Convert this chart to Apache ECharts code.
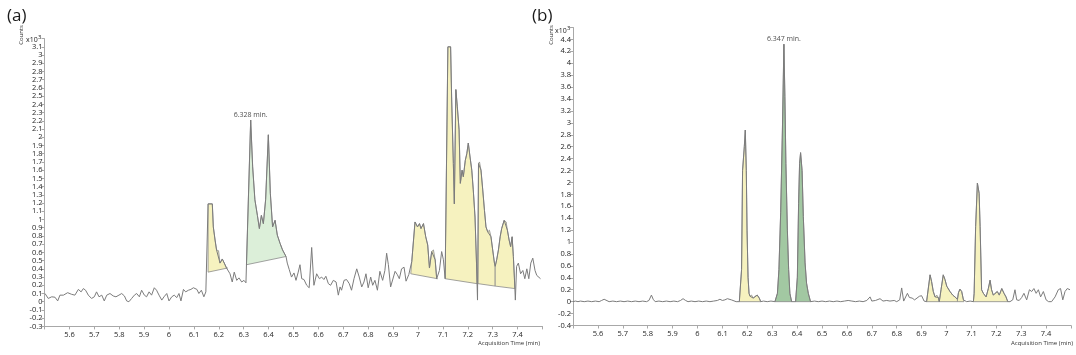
<!DOCTYPE html>
<html><head><meta charset="utf-8">
<script src="https://cdn.jsdelivr.net/npm/echarts@6/dist/echarts.min.js"></script>
<style>html,body{margin:0;padding:0;background:#fff}#c{width:1076px;height:355px}</style>
</head><body><div id="c"></div>
<script>
// ---------- Panel (a) ----------
const timesA = [5.502,5.515,5.529,5.542,5.553,5.562,5.576,5.593,5.609,5.622,5.636,5.647,5.656,5.665,5.676,5.689,5.700,5.709,5.719,5.730,5.740,5.750,5.763,5.776,5.787,5.799,5.810,5.821,5.830,5.839,5.850,5.861,5.870,5.881,5.890,5.901,5.910,5.920,5.930,5.941,5.950,5.960,5.971,5.980,5.991,6.000,6.011,6.021,6.031,6.040,6.048,6.058,6.067,6.078,6.088,6.098,6.104,6.112,6.120,6.130,6.140,6.148,6.155,6.157,6.174,6.178,6.185,6.191,6.199,6.205,6.214,6.222,6.231,6.235,6.245,6.254,6.262,6.272,6.281,6.292,6.301,6.309,6.328,6.336,6.345,6.355,6.363,6.371,6.379,6.388,6.399,6.407,6.416,6.426,6.435,6.446,6.456,6.470,6.475,6.483,6.492,6.502,6.510,6.519,6.526,6.533,6.542,6.553,6.563,6.573,6.582,6.593,6.604,6.613,6.622,6.630,6.640,6.649,6.660,6.671,6.680,6.687,6.693,6.703,6.713,6.724,6.733,6.743,6.754,6.764,6.774,6.783,6.791,6.800,6.810,6.818,6.827,6.837,6.847,6.858,6.867,6.874,6.881,6.890,6.898,6.908,6.917,6.925,6.934,6.944,6.952,6.963,6.975,6.988,6.998,7.006,7.012,7.022,7.031,7.039,7.046,7.055,7.062,7.069,7.075,7.086,7.095,7.102,7.109,7.120,7.131,7.135,7.142,7.146,7.152,7.158,7.165,7.170,7.177,7.182,7.190,7.196,7.202,7.209,7.216,7.222,7.229,7.235,7.239,7.243,7.247,7.253,7.260,7.267,7.273,7.280,7.287,7.293,7.300,7.307,7.310,7.316,7.323,7.330,7.336,7.346,7.354,7.359,7.366,7.372,7.378,7.383,7.387,7.391,7.396,7.403,7.412,7.421,7.429,7.437,7.445,7.453,7.461,7.470,7.477,7.484,7.492];
const countsA = [0.10,0.04,0.06,0.055,0.01,0.08,0.08,0.11,0.09,0.08,0.15,0.12,0.16,0.14,0.08,0.04,0.06,0.12,0.06,0.08,0.01,0.08,0.10,0.07,0.06,0.08,0.10,0.07,0.01,0.00,0.04,0.08,0.10,0.06,0.14,0.08,0.06,0.12,0.08,0.17,0.14,0.08,0.02,0.06,0.10,0.01,0.06,0.08,0.05,0.10,0.01,0.15,0.12,0.14,0.15,0.17,0.18,0.15,0.10,0.14,0.06,0.12,0.10,1.19,1.19,0.91,0.75,0.63,0.62,0.47,0.52,0.47,0.41,0.41,0.34,0.24,0.36,0.26,0.29,0.24,0.26,0.23,2.21,1.64,1.24,1.05,0.89,1.05,0.95,1.24,2.03,1.32,0.91,0.99,0.81,0.71,0.63,0.55,0.47,0.39,0.30,0.35,0.26,0.36,0.45,0.28,0.27,0.20,0.17,0.66,0.20,0.34,0.28,0.30,0.27,0.31,0.22,0.20,0.26,0.24,0.08,0.18,0.14,0.26,0.27,0.22,0.14,0.28,0.40,0.30,0.18,0.24,0.34,0.17,0.30,0.20,0.26,0.14,0.37,0.26,0.38,0.59,0.45,0.18,0.17,0.37,0.33,0.28,0.40,0.42,0.25,0.33,0.49,0.97,0.91,0.95,0.89,0.95,0.79,0.69,0.41,0.61,0.63,0.51,0.28,0.38,0.61,0.51,0.28,3.10,3.10,2.49,1.68,1.19,2.58,2.37,2.09,1.44,1.60,1.52,1.72,1.80,1.93,1.76,1.60,1.36,1.03,0.47,0.02,1.68,1.70,1.60,1.36,1.11,0.91,0.85,0.87,0.79,0.63,0.47,0.43,0.51,0.63,0.79,0.89,0.99,0.97,0.87,0.75,0.67,0.79,0.55,0.30,0.02,0.43,0.47,0.34,0.38,0.28,0.40,0.28,0.47,0.53,0.38,0.32,0.34,0.28];
const peakStartA = [6.157, 6.311, 6.971, 7.109, 7.241, 7.310];
const peakEndA   = [6.235, 6.470, 7.078, 7.237, 7.310, 7.389];
const baseStartA = [0.36, 0.45, 0.34, 0.28, 0.22, 0.19];
const baseEndA   = [0.41, 0.55, 0.28, 0.22, 0.19, 0.16];
const peakKindA  = ['qualifier','target','qualifier','qualifier','qualifier','qualifier'];
const apexA = [6.328, 2.21];
const apexLabelA = '6.328 min.';

// ---------- Panel (b) ----------
const timesB = [5.500,5.510,5.520,5.530,5.545,5.560,5.575,5.590,5.605,5.615,5.625,5.632,5.645,5.660,5.675,5.690,5.705,5.720,5.735,5.750,5.765,5.780,5.795,5.805,5.815,5.822,5.830,5.845,5.860,5.875,5.890,5.905,5.920,5.932,5.942,5.952,5.962,5.975,5.990,6.005,6.020,6.035,6.050,6.065,6.080,6.090,6.100,6.110,6.120,6.128,6.136,6.144,6.155,6.168,6.177,6.181,6.188,6.192,6.196,6.199,6.203,6.207,6.211,6.217,6.224,6.231,6.240,6.248,6.254,6.265,6.280,6.295,6.311,6.321,6.327,6.334,6.341,6.347,6.351,6.355,6.361,6.366,6.371,6.378,6.385,6.394,6.401,6.406,6.410,6.414,6.420,6.425,6.432,6.438,6.445,6.454,6.470,6.485,6.500,6.515,6.530,6.545,6.560,6.575,6.590,6.605,6.612,6.620,6.635,6.650,6.665,6.680,6.693,6.700,6.715,6.733,6.745,6.760,6.773,6.780,6.790,6.800,6.812,6.820,6.828,6.835,6.843,6.851,6.862,6.872,6.880,6.891,6.900,6.910,6.920,6.934,6.940,6.947,6.954,6.961,6.967,6.971,6.978,6.987,6.994,7.001,7.014,7.025,7.034,7.044,7.048,7.054,7.061,7.068,7.070,7.081,7.095,7.108,7.111,7.117,7.124,7.131,7.135,7.141,7.148,7.159,7.168,7.175,7.181,7.188,7.195,7.204,7.212,7.222,7.231,7.239,7.246,7.255,7.266,7.275,7.282,7.292,7.302,7.311,7.322,7.333,7.342,7.351,7.360,7.369,7.378,7.389,7.400,7.410,7.422,7.436,7.449,7.458,7.467,7.476,7.485,7.496];
const countsB = [0.00,0.01,0.00,0.01,0.00,0.01,0.00,0.01,0.00,0.02,0.04,0.01,0.00,0.01,0.00,0.01,0.00,0.01,0.00,0.01,0.00,0.01,0.00,0.02,0.11,0.04,0.00,0.01,0.00,0.01,0.00,0.01,0.00,0.02,0.05,0.02,0.00,0.01,0.00,0.01,0.00,0.01,0.00,0.01,0.02,0.04,0.02,0.03,0.05,0.06,0.03,0.01,0.00,0.00,0.54,2.20,2.60,2.88,2.20,1.20,0.41,0.14,0.09,0.11,0.06,0.09,0.11,0.06,0.00,0.01,0.00,0.01,0.00,0.14,0.54,1.49,2.88,4.32,3.44,2.32,1.20,0.54,0.14,0.00,0.02,0.00,0.41,1.65,2.32,2.50,2.20,1.43,0.65,0.31,0.14,0.00,0.01,0.00,0.01,0.00,0.01,0.00,0.01,0.00,0.01,0.02,0.03,0.01,0.00,0.01,0.00,0.02,0.08,0.01,0.02,0.05,0.01,0.02,0.01,0.03,0.02,0.00,0.03,0.23,0.01,0.02,0.14,0.07,0.06,0.03,0.01,0.09,0.10,0.01,0.00,0.45,0.34,0.17,0.08,0.11,0.07,0.00,0.20,0.45,0.37,0.26,0.17,0.11,0.08,0.04,0.15,0.21,0.17,0.03,0.00,0.00,0.01,0.00,0.14,1.26,1.99,1.82,1.26,0.20,0.14,0.08,0.22,0.36,0.20,0.11,0.14,0.17,0.11,0.22,0.14,0.08,0.00,0.00,0.03,0.20,0.03,0.02,0.07,0.14,0.03,0.20,0.17,0.22,0.14,0.20,0.08,0.17,0.03,0.00,0.00,0.08,0.20,0.22,0.03,0.17,0.22,0.20];
const peakStartB = [6.168, 6.311, 6.394, 6.920, 6.971, 7.044, 7.108];
const peakEndB   = [6.254, 6.378, 6.454, 6.971, 7.044, 7.070, 7.246];
const baseStartB = [0, 0, 0, 0, 0, 0, 0];
const baseEndB   = [0, 0, 0, 0, 0, 0, 0];
const peakKindB  = ['qualifier','targetB','targetB','qualifier','qualifier','qualifier','qualifier'];
const apexB = [6.347, 4.32];
const apexLabelB = '6.347 min.';

const FONT = 'Open Sans';
const fills = { qualifier: '#f6f2bf', target: '#dcefd9', targetB: '#a2c8a2' };

function fillSeries(gi, times, counts, starts, ends, b0, b1, kinds) {
  return {
    type: 'custom', xAxisIndex: gi, yAxisIndex: gi, z: 1, silent: true, animation: false,
    data: starts.map((s, i) => [s, ends[i], b0[i], b1[i]]),
    encode: { x: [0, 1], y: [2, 3] },
    renderItem(params, api) {
      const i = params.dataIndex;
      const s = starts[i], e = ends[i];
      const pts = [api.coord([s, b0[i]])];
      for (let k = 0; k < times.length; k++) {
        if (times[k] >= s && times[k] <= e) pts.push(api.coord([times[k], counts[k]]));
      }
      pts.push(api.coord([e, b1[i]]));
      return { type: 'polygon', shape: { points: pts },
        style: { fill: fills[kinds[i]], stroke: '#8a8a8a', lineWidth: 0.8 } };
    }
  };
}
function traceSeries(gi, times, counts) {
  return { type: 'line', xAxisIndex: gi, yAxisIndex: gi, z: 3, silent: true, animation: false,
    showSymbol: false, symbol: 'none',
    data: times.map((t, i) => [t, counts[i]]),
    lineStyle: { color: '#7c7c7c', width: 1 } };
}
function apexSeries(gi, apex, text) {
  return { type: 'scatter', xAxisIndex: gi, yAxisIndex: gi, z: 4, silent: true, animation: false,
    symbolSize: 0, data: [apex],
    label: { show: true, position: 'top', distance: 2, formatter: text,
      fontFamily: FONT, fontSize: 7, color: '#1a1a1a' } };
}
function xAxis(gi) {
  return { type: 'value', gridIndex: gi, min: 5.5, max: 7.5, interval: 0.1,
    axisLine: { show: true, onZero: false, lineStyle: { color: '#a8a8a8', width: 1 } },
    axisTick: { show: true, length: 3, lineStyle: { color: '#a8a8a8' } },
    splitLine: { show: false },
    axisLabel: { fontFamily: FONT, fontSize: 7.5, color: '#262626', margin: 4,
      formatter: v => (v < 5.55 || v > 7.45) ? '' : String(+v.toFixed(1)) } };
}
function yAxis(gi, min, max, interval) {
  return { type: 'value', gridIndex: gi, min: min, max: max, interval: interval,
    axisLine: { show: true, lineStyle: { color: '#a8a8a8', width: 1 } },
    axisTick: { show: true, length: 3, lineStyle: { color: '#a8a8a8' } },
    splitLine: { show: false },
    axisLabel: { fontFamily: FONT, fontSize: 7.5, color: '#262626', margin: 2,
      formatter: v => (v > max - interval / 2) ? '' : String(+v.toFixed(1)) } };
}
function txt(x, y, text, size, opts) {
  return Object.assign({ type: 'text', x: x, y: y, silent: true,
    style: Object.assign({ text: text, font: size + 'px "' + FONT + '"', fill: '#1a1a1a' }, (opts || {}).style) },
    opts && opts.rotation ? { rotation: opts.rotation } : {});
}

const chart = echarts.init(document.getElementById('c'), null, { renderer: 'canvas' });
chart.setOption({
  animation: false,
  backgroundColor: '#ffffff',
  grid: [
    { left: 44.5, top: 38.6, width: 498, height: 287.8 },
    { left: 573, top: 27.5, width: 498, height: 298 }
  ],
  xAxis: [xAxis(0), xAxis(1)],
  yAxis: [yAxis(0, -0.3, 3.2, 0.1), yAxis(1, -0.4, 4.6, 0.2)],
  series: [
    fillSeries(0, timesA, countsA, peakStartA, peakEndA, baseStartA, baseEndA, peakKindA),
    traceSeries(0, timesA, countsA),
    apexSeries(0, apexA, apexLabelA),
    fillSeries(1, timesB, countsB, peakStartB, peakEndB, baseStartB, baseEndB, peakKindB),
    traceSeries(1, timesB, countsB),
    apexSeries(1, apexB, apexLabelB)
  ],
  graphic: [
    txt(7, 8, '(a)', 17, { style: { verticalAlign: 'top' } }),
    txt(532, 8, '(b)', 17, { style: { verticalAlign: 'top' } }),
    txt(21, 35, 'Counts', 6, { rotation: Math.PI / 2, style: { align: 'center', verticalAlign: 'middle', fill: '#333' } }),
    txt(26, 40, 'x10', 7, { style: { verticalAlign: 'middle', fill: '#222' } }),
    txt(38, 37, '3', 6, { style: { verticalAlign: 'middle', fill: '#222' } }),
    txt(551, 35, 'Counts', 6, { rotation: Math.PI / 2, style: { align: 'center', verticalAlign: 'middle', fill: '#333' } }),
    txt(555, 31, 'x10', 7, { style: { verticalAlign: 'middle', fill: '#222' } }),
    txt(567, 28, '3', 6, { style: { verticalAlign: 'middle', fill: '#222' } }),
    txt(540, 343, 'Acquisition Time (min)', 6, { style: { align: 'right', verticalAlign: 'middle', fill: '#333' } }),
    txt(1073, 343, 'Acquisition Time (min)', 6, { style: { align: 'right', verticalAlign: 'middle', fill: '#333' } })
  ]
});
</script></body></html>
